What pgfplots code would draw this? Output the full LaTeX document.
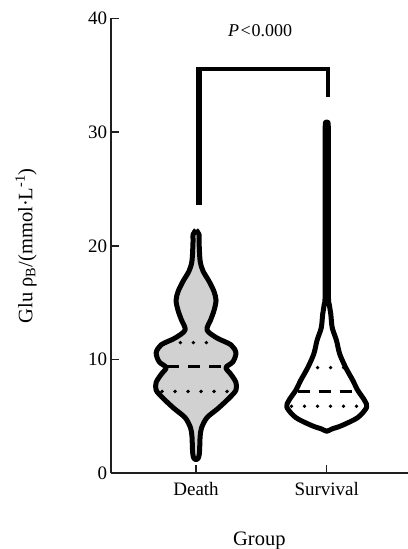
\documentclass[border=0pt]{standalone}
\usepackage{fontspec}
\setmainfont{Liberation Serif}
\usepackage{pgfplots}
\pgfplotsset{compat=1.18}
\begin{document}
\begin{tikzpicture}
\useasboundingbox (-110.7bp,-75.7bp) rectangle (297.3bp,473.3bp);
\begin{axis}[
  at={(0,0)}, anchor=south west,
  x=130.7bp, y=11.37bp,
  xmin=0.347, xmax=2.622, ymin=0, ymax=40,
  axis x line*=bottom, axis y line*=left,
  axis line style={-, line width=2bp, black!88},
  clip=false,
  xtick={1,2}, xticklabels={Death,Survival},
  ytick={0,10,20,30,40},
  tick align=inside, major tick length=8bp,
  tick style={line width=1.5bp, black!88},
  ticklabel style={font=\fontsize{19bp}{22bp}\selectfont, /pgf/number format/assume math mode=true},
  xticklabel style={yshift=-5bp},
  /pgf/number format/assume math mode=true,
  xlabel={Group},
  ylabel={Glu ρ\textsubscript{B}/(mmol·L\textsuperscript{-1})},
  label style={font=\fontsize{20.5bp}{24bp}\selectfont},
  xlabel style={at={(axis description cs:0.5,-0.1495)}, anchor=center},
  ylabel style={at={(axis description cs:-0.285,0.5)}, anchor=center},
]
% Death violin
\addplot[draw=black, fill=black!18, line width=5bp, smooth, line join=round] coordinates {
(1.000,21.4) (1.023,21.0) (1.023,20.4) (1.031,18.7) (1.053,17.8) (1.099,16.9)
(1.137,16.0) (1.153,15.2) (1.137,14.3) (1.112,13.5) (1.084,12.6) (1.160,11.9)
(1.267,11.3) (1.305,10.6) (1.282,9.8) (1.229,9.3) (1.267,8.7) (1.305,8.0)
(1.305,7.3) (1.252,6.6) (1.168,5.7) (1.084,4.9) (1.042,4.0) (1.031,3.2)
(1.027,2.0) (1.020,1.4) (1.000,1.2)
(0.980,1.4) (0.973,2.0) (0.969,3.2) (0.958,4.0) (0.916,4.9) (0.832,5.7)
(0.748,6.6) (0.695,7.3) (0.695,8.0) (0.733,8.7) (0.771,9.3) (0.718,9.8)
(0.695,10.6) (0.733,11.3) (0.840,11.9) (0.916,12.6) (0.888,13.5) (0.863,14.3)
(0.847,15.2) (0.863,16.0) (0.901,16.9) (0.947,17.8) (0.969,18.7) (0.977,20.4)
(0.977,21.0) (1.000,21.4)
};
% Survival violin
\addplot[draw=black, fill=white, line width=5bp, smooth, line join=round] coordinates {
(2.000,30.7) (2.012,30.4) (2.012,24.0) (2.012,16.0) (2.020,14.8) (2.031,14.0)
(2.042,12.8) (2.074,11.7) (2.099,10.5) (2.145,9.3) (2.198,8.2) (2.237,7.3)
(2.290,6.4) (2.305,5.8) (2.237,4.9) (2.115,4.2) (2.040,3.9) (2.000,3.7)
(1.960,3.9) (1.885,4.2) (1.763,4.9) (1.695,5.8) (1.710,6.4) (1.763,7.3)
(1.802,8.2) (1.855,9.3) (1.901,10.5) (1.926,11.7) (1.958,12.8) (1.969,14.0)
(1.980,14.8) (1.988,16.0) (1.988,24.0) (1.988,30.4) (2.000,30.7)
};
% quartile lines Death
\addplot[black, line width=3.8bp, line cap=round, dash pattern=on 0bp off 13bp] coordinates {(0.88,11.5) (1.14,11.5)};
\addplot[black, line width=3.2bp, dash pattern=on 12bp off 9bp] coordinates {(0.78,9.4) (1.24,9.4)};
\addplot[black, line width=3.8bp, line cap=round, dash pattern=on 0bp off 13bp] coordinates {(0.74,7.2) (1.28,7.2)};
% quartile lines Survival
\addplot[black, line width=3.8bp, line cap=round, dash pattern=on 0bp off 13bp] coordinates {(1.93,9.3) (2.13,9.3)};
\addplot[black, line width=3.2bp, dash pattern=on 12bp off 9bp] coordinates {(1.78,7.2) (2.24,7.2)};
\addplot[black, line width=3.8bp, line cap=round, dash pattern=on 0bp off 13bp] coordinates {(1.73,5.9) (2.28,5.9)};
% significance bracket
\addplot[black, line width=4.5bp] coordinates {(1.02,23.6) (1.02,35.58) (2.01,35.58) (2.01,33.1)};
\addplot[black, line width=6bp] coordinates {(1.02,23.6) (1.02,35.4)};
\node[font=\fontsize{18bp}{21bp}\selectfont] at (axis cs:1.49,38.9) {\textit{P}\kern1.5bp<\kern1bp0.000};
\end{axis}
\end{tikzpicture}
\end{document}
